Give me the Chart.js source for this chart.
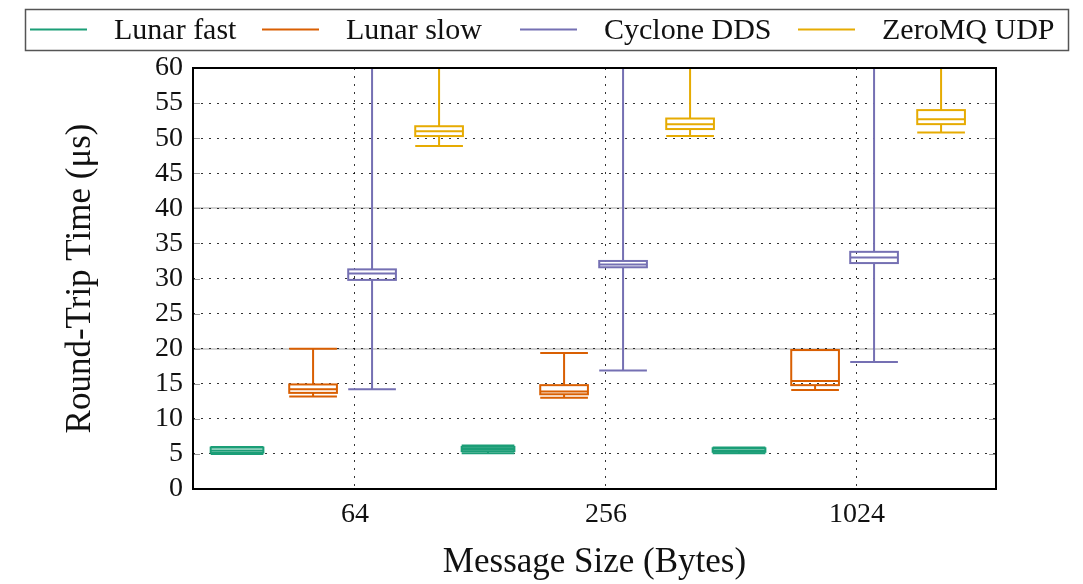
<!DOCTYPE html>
<html><head><meta charset="utf-8">
<script src="https://cdn.jsdelivr.net/npm/chart.js@4/dist/chart.umd.min.js"></script>
<style>html,body{margin:0;padding:0;background:#fff}#wrap{width:1083px;height:584px;position:relative}</style>
</head><body><div id="wrap"><canvas id="c"></canvas></div>
<script>
// ---- data ----
const categories = ['64', '256', '1024'];
const seriesNames = ['Lunar fast', 'Lunar slow', 'Cyclone DDS', 'ZeroMQ UDP'];
const yTicks = [0, 5, 10, 15, 20, 25, 30, 35, 40, 45, 50, 55, 60];
// five-number summaries per category: [min, q1, median, q3, max]
const lunarFast  = [[5.0, 5.2, 5.5, 5.9, 6.0], [5.1, 5.4, 5.7, 6.0, 6.2], [5.1, 5.3, 5.5, 5.8, 5.9]];
const lunarSlow  = [[13.2, 13.7, 14.2, 14.9, 20.0], [13.0, 13.5, 13.9, 14.8, 19.4], [14.1, 14.8, 15.4, 19.8, 19.8]];
const cycloneDDS = [[14.2, 29.8, 30.7, 31.3, 75.0], [16.9, 31.6, 32.0, 32.5, 75.0], [18.1, 32.2, 33.0, 33.8, 75.0]];
const zeroMQUDP  = [[48.9, 50.3, 51.0, 51.7, 75.0], [50.3, 51.3, 52.0, 52.8, 75.0], [50.8, 52.0, 52.7, 54.0, 75.0]];
const seriesStats = [lunarFast, lunarSlow, cycloneDDS, zeroMQUDP];

// ---- style ----
const colors = ['#1b9e77', '#d95f02', '#7570b3', '#e6ab02'];
const seriesOffset = [-0.470, -0.167, 0.068, 0.335];
const boxWidth = [0.21, 0.19, 0.19, 0.19];
const legendX = [30, 262, 520, 798];
const serif = "'Liberation Serif', 'Times New Roman', serif";

const datasets = seriesNames.map((name, s) => ({
  label: name,
  data: categories.map((c, i) => ({ x: i + 1 + seriesOffset[s], y: seriesStats[s][i][2] })),
  borderColor: colors[s],
  backgroundColor: colors[s],
  showLine: false,
  pointRadius: 0,
  pointHoverRadius: 0
}));

const boxPlugin = {
  id: 'boxes',
  beforeDatasetsDraw(chart) {
    const { ctx, chartArea: a, scales: { x, y } } = chart;
    ctx.save();
    ctx.strokeStyle = 'rgba(0,0,0,0.18)';
    ctx.lineWidth = 2;
    [20, 40].forEach(v => {
      const py = Math.round(y.getPixelForValue(v));
      ctx.beginPath(); ctx.moveTo(a.left, py); ctx.lineTo(a.right, py); ctx.stroke();
    });
    ctx.strokeStyle = '#999';
    ctx.lineWidth = 1;
    yTicks.forEach(v => {
      const py = Math.round(y.getPixelForValue(v)) + 0.5;
      ctx.beginPath(); ctx.moveTo(a.left, py); ctx.lineTo(a.left + 7, py);
      ctx.moveTo(a.right - 7, py); ctx.lineTo(a.right, py); ctx.stroke();
    });
    ctx.restore();
  },
  afterDatasetsDraw(chart) {
    const { ctx, chartArea: a, scales: { x, y } } = chart;
    ctx.save();
    ctx.beginPath();
    ctx.rect(a.left, a.top, a.right - a.left, a.bottom - a.top);
    ctx.clip();
    ctx.lineWidth = 2;
    seriesStats.forEach((stats, s) => {
      ctx.strokeStyle = colors[s];
      stats.forEach((st, i) => {
        const xv = i + 1 + seriesOffset[s];
        const xc = x.getPixelForValue(xv);
        const xl = x.getPixelForValue(xv - boxWidth[s] / 2);
        const xr = x.getPixelForValue(xv + boxWidth[s] / 2);
        const [mn, q1, md, q3, mx] = st.map(v => y.getPixelForValue(v));
        ctx.beginPath();
        ctx.moveTo(xc, q3); ctx.lineTo(xc, mx);
        ctx.moveTo(xc, q1); ctx.lineTo(xc, mn);
        ctx.moveTo(xl, mx); ctx.lineTo(xr, mx);
        ctx.moveTo(xl, mn); ctx.lineTo(xr, mn);
        ctx.moveTo(xl, md); ctx.lineTo(xr, md);
        ctx.stroke();
        ctx.strokeRect(xl, q3, xr - xl, q1 - q3);
      });
    });
    ctx.restore();
  },
  afterDraw(chart) {
    const { ctx, chartArea: a } = chart;
    ctx.save();
    // frame
    ctx.strokeStyle = '#000';
    ctx.lineWidth = 2;
    ctx.strokeRect(a.left, a.top, a.right - a.left, a.bottom - a.top);
    // legend
    ctx.strokeStyle = '#555';
    ctx.lineWidth = 1.5;
    ctx.strokeRect(25.5, 9.5, 1043, 41);
    ctx.font = '30px ' + serif;
    ctx.textBaseline = 'middle';
    ctx.fillStyle = '#111';
    chart.data.datasets.forEach((ds, s) => {
      const lx = legendX[s];
      ctx.strokeStyle = colors[s];
      ctx.lineWidth = 2;
      ctx.beginPath(); ctx.moveTo(lx, 29.5); ctx.lineTo(lx + 57, 29.5); ctx.stroke();
      ctx.fillText(ds.label, lx + 57 + 27, 31);
    });
    ctx.restore();
  }
};

new Chart(document.getElementById('c'), {
  type: 'line',
  data: { datasets },
  plugins: [boxPlugin],
  options: {
    responsive: true,
    maintainAspectRatio: false,
    animation: false,
    events: [],
    layout: { padding: { top: 68, right: 87, left: 0, bottom: 0 } },
    plugins: { legend: { display: false }, tooltip: { enabled: false } },
    scales: {
      x: {
        type: 'linear',
        min: 0.3546,
        max: 3.5538,
        afterBuildTicks(scale) { scale.ticks = categories.map((c, i) => ({ value: i + 1 })); },
        afterFit(scale) { scale.height = 95; },
        ticks: {
          callback: (v) => categories[Math.round(v) - 1],
          font: { family: serif, size: 28 },
          color: '#111',
          padding: 9,
          maxRotation: 0,
          autoSkip: false
        },
        grid: { color: 'rgba(0,0,0,0.8)', lineWidth: 1, drawTicks: false },
        border: { display: false, dash: [2, 6] },
        title: {
          display: true,
          text: 'Message Size (Bytes)',
          font: { family: serif, size: 35 },
          color: '#111',
          padding: { top: 0, bottom: 0 }
        }
      },
      y: {
        min: 0,
        max: 60,
        afterBuildTicks(scale) { scale.ticks = yTicks.map(v => ({ value: v })); },
        afterFit(scale) { scale.width = 193; },
        ticks: {
          font: { family: serif, size: 28 },
          color: '#111',
          padding: 10,
          autoSkip: false
        },
        grid: { color: 'rgba(0,0,0,0.8)', lineWidth: 1, drawTicks: false },
        border: { display: false, dash: [2, 6] },
        title: {
          display: true,
          text: 'Round-Trip Time (μs)',
          font: { family: serif, size: 35 },
          color: '#111',
          padding: { top: 60, bottom: 0 }
        }
      }
    }
  }
});
</script></body></html>
